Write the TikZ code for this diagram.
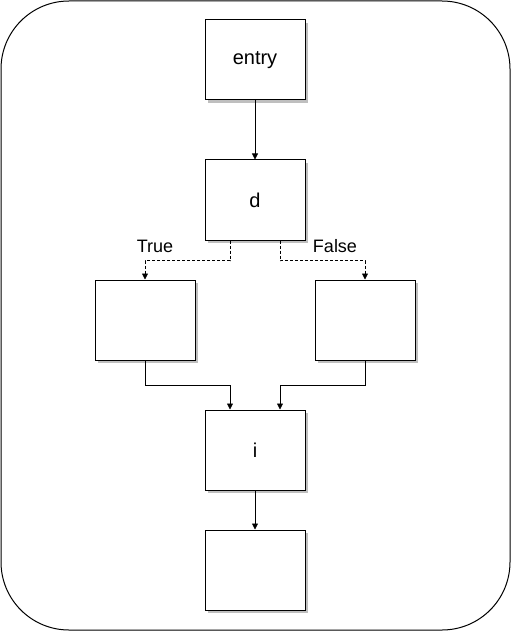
\documentclass[tikz,border=0pt]{standalone}
\usepackage{fontspec}
\setmainfont{Liberation Sans}
\usetikzlibrary{arrows.meta,shadows}
\begin{document}
\begin{tikzpicture}[x=1pt,y=-1pt,
  blk/.style={draw=black,fill=white,line width=1pt,minimum width=100pt,minimum height=80pt,inner sep=0pt,
    drop shadow={shadow xshift=3pt,shadow yshift=-3pt,fill=black!25,opacity=1},
    font=\fontsize{20}{24}\selectfont},
  conn/.style={line width=0.8pt,-{Triangle[length=6pt,width=6pt]}},
  dconn/.style={conn,dashed,dash pattern=on 3pt off 2pt},
  lbl/.style={font=\fontsize{18}{21}\selectfont,inner sep=0pt}]
\useasboundingbox (0,0) rectangle (511,631);
\draw[line width=1pt,rounded corners=68pt] (1,1) rectangle (510,630);
\node[blk] (entry) at (255,60) {entry};
\node[blk] (d) at (255,200) {d};
\node[blk] (t) at (145,320) {};
\node[blk] (f) at (365,320) {};
\node[blk] (i) at (255,450) {i};
\node[blk] (e) at (255,570) {};
\coordinate (dt) at ([xshift=-25pt]d.south);
\coordinate (df) at ([xshift=25pt]d.south);
\coordinate (it) at ([xshift=-25pt]i.north);
\coordinate (if) at ([xshift=25pt]i.north);
\draw[conn] (entry.south) -- (d.north);
\draw[dconn] (dt) |- ++(0,20) -| (t.north);
\draw[dconn] (df) |- ++(0,20) -| (f.north);
\draw[conn] (t.south) -- ++(0,25) -| (it);
\draw[conn] (f.south) -- ++(0,25) -| (if);
\draw[conn] (i.south) -- (e.north);
\node[lbl] (lt) at (155,246) {True};
\node[lbl] (lf) at (335,246) {False};
\end{tikzpicture}
\end{document}
